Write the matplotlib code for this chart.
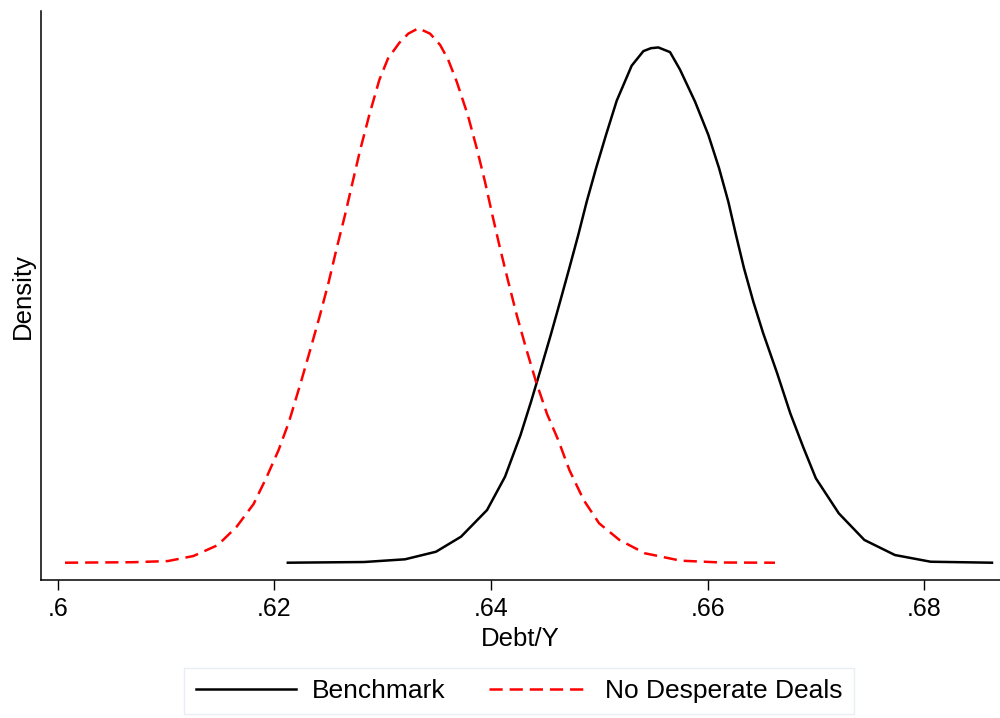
import matplotlib
matplotlib.use("Agg")
import matplotlib.pyplot as plt

plt.rcParams["font.family"] = ["Liberation Sans", "DejaVu Sans"]
plt.rcParams["lines.scale_dashes"] = False

# kernel density of Debt/Y, benchmark economy
bench_x = [0.62124, 0.62827, 0.63206, 0.63492, 0.63723, 0.63963, 0.64129,
           0.64272, 0.64369, 0.64461, 0.64551, 0.64637, 0.64722, 0.64805,
           0.64883, 0.64969, 0.65061, 0.65160, 0.65298, 0.65406, 0.65475,
           0.65544, 0.65652, 0.65744, 0.65883, 0.66006, 0.66105, 0.66190,
           0.66261, 0.66335, 0.66421, 0.66511, 0.66640, 0.66762, 0.66880,
           0.66998, 0.67210, 0.67446, 0.67728, 0.68058, 0.68624]
bench_y = [0.00, 0.07, 0.35, 1.13, 2.68, 5.42, 8.85,
           13.14, 16.57, 20.01, 23.44, 26.86, 30.30, 33.73,
           37.16, 40.59, 44.02, 47.55, 51.15, 52.65, 52.95,
           53.03, 52.55, 50.75, 47.45, 44.02, 40.59, 37.16,
           33.73, 30.30, 26.86, 23.65, 19.53, 15.38, 11.94,
           8.69, 5.08, 2.34, 0.79, 0.10, 0.00]

# kernel density of Debt/Y without desperate deals
nodd_x = [0.60067, 0.60695, 0.61017, 0.61253, 0.61479, 0.61652, 0.61808,
          0.61926, 0.62039, 0.62135, 0.62246, 0.62335, 0.62421, 0.62502,
          0.62575, 0.62652, 0.62723, 0.62790, 0.62876, 0.62969, 0.63049,
          0.63153, 0.63236, 0.63329, 0.63437, 0.63529, 0.63603, 0.63683,
          0.63785, 0.63868, 0.63944, 0.64012, 0.64083, 0.64159, 0.64237,
          0.64323, 0.64415, 0.64517, 0.64620, 0.64723, 0.64855, 0.64997,
          0.65185, 0.65420, 0.65750, 0.66127, 0.66621]
nodd_y = [0.00, 0.05, 0.17, 0.69, 1.82, 3.71, 6.04,
          8.75, 11.60, 14.51, 18.63, 22.07, 25.49, 28.92,
          32.36, 35.79, 39.21, 42.40, 46.08, 49.70, 51.90,
          53.50, 54.45, 55.00, 54.45, 53.30, 51.80, 49.51,
          46.08, 42.65, 39.21, 35.79, 32.36, 28.92, 25.49,
          22.07, 18.63, 15.30, 12.63, 9.54, 6.45, 4.06,
          2.34, 0.97, 0.21, 0.02, 0.00]

xticks = [0.60, 0.62, 0.64, 0.66, 0.68]
xtick_labels = [".6", ".62", ".64", ".66", ".68"]
labels = ["Benchmark", "No Desperate Deals"]

fig = plt.figure(figsize=(10, 7.18), dpi=100)
ax = fig.add_axes([0.0405, 0.1922, 0.9595, 0.7918])

ax.plot(bench_x, bench_y, color="black", lw=1.8, label=labels[0])
ax.plot(nodd_x, nodd_y, color="#ff0000", lw=1.8, dashes=[9.5, 5],
        label=labels[1])

ax.set_xlim(0.59841, 0.68698)
ax.set_ylim(-1.78, 56.73)

for side in ("top", "right"):
    ax.spines[side].set_visible(False)
for side in ("left", "bottom"):
    ax.spines[side].set_linewidth(1.1)

ax.set_xticks(xticks)
ax.set_xticklabels(xtick_labels, fontsize=18)
ax.tick_params(axis="x", length=7.2, width=1.0, pad=5)
ax.set_yticks([])

ax.set_xlabel("Debt/Y", fontsize=18.5, labelpad=4)
ax.set_ylabel("Density", fontsize=18.5, labelpad=4)

leg = fig.legend(loc="center", bbox_to_anchor=(0.519, 0.0376), ncol=2,
                 fontsize=19, frameon=True, fancybox=False,
                 handlelength=3.8, handletextpad=0.6, columnspacing=1.65,
                 borderpad=0.42, borderaxespad=0)
leg.get_frame().set_edgecolor("#e3eaee")
leg.get_frame().set_linewidth(1.0)

fig.savefig("out.png", dpi=100)
